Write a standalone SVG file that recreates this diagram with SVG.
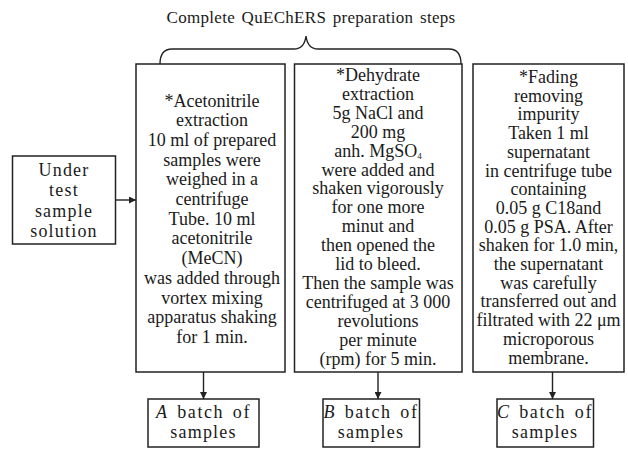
<svg xmlns="http://www.w3.org/2000/svg" width="628" height="450" viewBox="0 0 628 450" font-family="'Liberation Serif', 'Times New Roman', Times, serif">
<defs>
<marker id="ah" viewBox="0 0 10 10" refX="10" refY="5" markerWidth="7" markerHeight="7" markerUnits="userSpaceOnUse" orient="auto">
<path d="M0,0 L10,5 L0,10 z" fill="#222"/>
</marker>
</defs>
<style>
text{font-family:'Liberation Serif','Times New Roman',Times,serif}
.t{font-size:18px;fill:#1a1a1a;text-anchor:middle}
.sp{letter-spacing:1.2px}
.wide{letter-spacing:1.6px;word-spacing:2.5px}
.box{fill:#fff;stroke:#222;stroke-width:1.5}
.ln{fill:none;stroke:#222;stroke-width:1.4}
</style>
<rect width="628" height="450" fill="#fff"/>
<text class="t" x="311" y="23" style="font-size:17px;letter-spacing:0.3px;word-spacing:2px">Complete QuEChERS preparation steps</text>
<g id="connectors">
<path class="ln" d="M160,64 C160,55 163,49 172,49 L294,49 C302,49 305,44 306,36 C307,44 310,49 318,49 L449,49 C458,49 461,55 461,64"/>
<line class="ln" x1="115" y1="200" x2="136" y2="200" marker-end="url(#ah)"/>
<line class="ln" x1="203.5" y1="372" x2="203.5" y2="399" marker-end="url(#ah)"/>
<line class="ln" x1="378" y1="372" x2="378" y2="399" marker-end="url(#ah)"/>
<line class="ln" x1="552.5" y1="372" x2="552.5" y2="399" marker-end="url(#ah)"/>
</g>
<g id="under-test">
<rect class="box" x="12.5" y="156" width="103" height="88"/>
<text class="t sp" x="64" y="176">Under</text>
<text class="t sp" x="64" y="196">test</text>
<text class="t sp" x="64" y="216.5">sample</text>
<text class="t sp" x="64" y="236.5">solution</text>
</g>
<g id="step1">
<rect class="box" x="136" y="64" width="149" height="308"/>
<text class="t" x="212" y="106.5">*Acetonitrile</text>
<text class="t" x="212" y="126.2">extraction</text>
<text class="t" x="212" y="145.9">10 ml of prepared</text>
<text class="t" x="212" y="165.6">samples were</text>
<text class="t" x="212" y="185.3">weighed in a</text>
<text class="t" x="212" y="205">centrifuge</text>
<text class="t" x="212" y="224.7">Tube. 10 ml</text>
<text class="t" x="212" y="244.4">acetonitrile</text>
<text class="t" x="212" y="264.1">(MeCN)</text>
<text class="t" x="212" y="283.8">was added through</text>
<text class="t" x="212" y="303.5">vortex mixing</text>
<text class="t" x="212" y="323.2">apparatus shaking</text>
<text class="t" x="212" y="342.9">for 1 min.</text>
</g>
<g id="step2">
<rect class="box" x="294.5" y="64" width="167.5" height="308"/>
<text class="t" x="378" y="81">*Dehydrate</text>
<text class="t" x="378" y="99.9">extraction</text>
<text class="t" x="378" y="118.8">5g NaCl and</text>
<text class="t" x="378" y="137.7">200 mg</text>
<text class="t" x="378" y="156.6">anh. MgSO<tspan font-size="9" dy="2">4</tspan></text>
<text class="t" x="378" y="175.5">were added and</text>
<text class="t" x="378" y="194.4">shaken vigorously</text>
<text class="t" x="378" y="213.3">for one more</text>
<text class="t" x="378" y="232.2">minut and</text>
<text class="t" x="378" y="251.1">then opened the</text>
<text class="t" x="378" y="270">lid to bleed.</text>
<text class="t" x="378" y="288.9">Then the sample was</text>
<text class="t" x="378" y="307.8">centrifuged at 3 000</text>
<text class="t" x="378" y="326.7">revolutions</text>
<text class="t" x="378" y="345.6">per minute</text>
<text class="t" x="378" y="364.5">(rpm) for 5 min.</text>
</g>
<g id="step3">
<rect class="box" x="473" y="64" width="151" height="308"/>
<text class="t" x="548.5" y="83">*Fading</text>
<text class="t" x="548.5" y="101.7">removing</text>
<text class="t" x="548.5" y="120.4">impurity</text>
<text class="t" x="548.5" y="139.1">Taken 1 ml</text>
<text class="t" x="548.5" y="157.8">supernatant</text>
<text class="t" x="548.5" y="176.5">in centrifuge tube</text>
<text class="t" x="548.5" y="195.2">containing</text>
<text class="t" x="548.5" y="213.9">0.05 g C18and</text>
<text class="t" x="548.5" y="232.6">0.05 g PSA. After</text>
<text class="t" x="548.5" y="251.3">shaken for 1.0 min,</text>
<text class="t" x="548.5" y="270">the supernatant</text>
<text class="t" x="548.5" y="288.7">was carefully</text>
<text class="t" x="548.5" y="307.4">transferred out and</text>
<text class="t" x="548.5" y="326.1">filtrated with 22 μm</text>
<text class="t" x="548.5" y="344.8">microporous</text>
<text class="t" x="548.5" y="363.5">membrane.</text>
</g>
<g id="batchA">
<rect class="box" x="148" y="399" width="111" height="48"/>
<text class="t wide" x="203.5" y="417.5"><tspan font-style="italic">A</tspan> batch of</text>
<text class="t sp" x="203.5" y="437.5">samples</text>
</g>
<g id="batchB">
<rect class="box" x="323" y="399" width="96.5" height="48"/>
<text class="t wide" x="371" y="417.5"><tspan font-style="italic">B</tspan> batch of</text>
<text class="t sp" x="371" y="437.5">samples</text>
</g>
<g id="batchC">
<rect class="box" x="497" y="399" width="96.5" height="48"/>
<text class="t wide" x="545" y="417.5"><tspan font-style="italic">C</tspan> batch of</text>
<text class="t sp" x="545" y="437.5">samples</text>
</g>
</svg>
